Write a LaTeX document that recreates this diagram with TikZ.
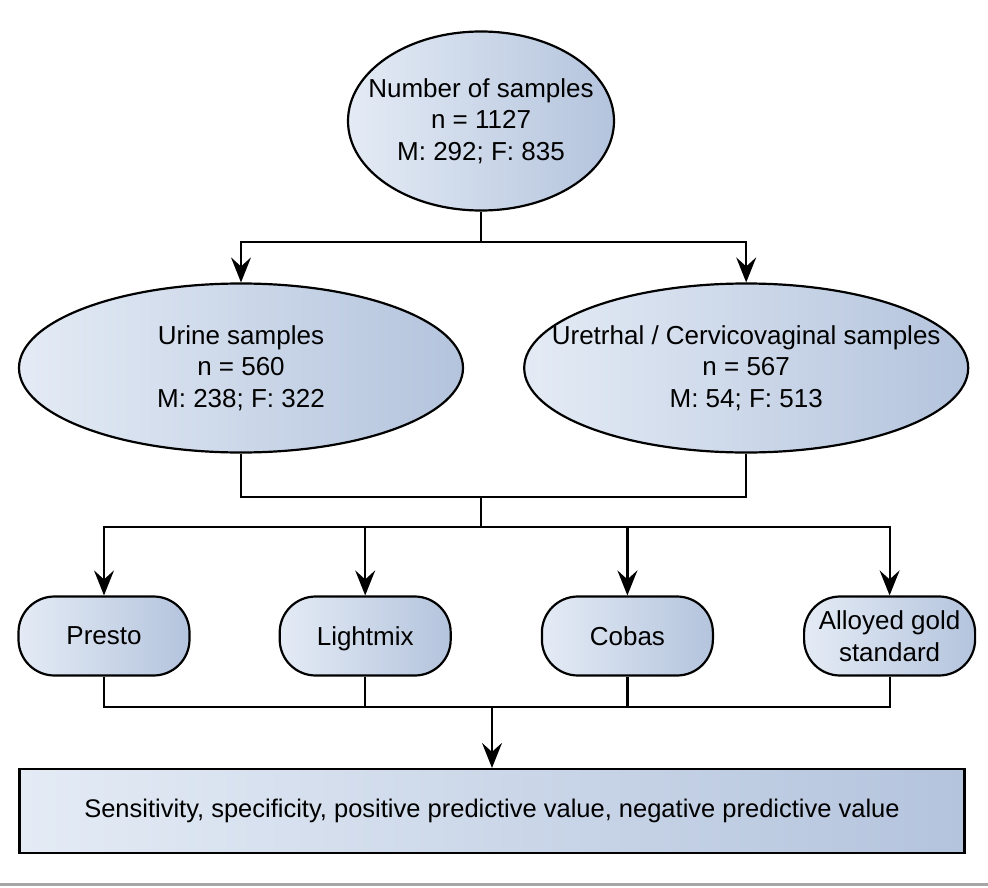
\documentclass[tikz,border=0pt]{standalone}
\usepackage{fontspec}
\setmainfont{Liberation Sans}
\usepackage{tikz}
\usetikzlibrary{arrows.meta,positioning,shapes.geometric}

\definecolor{shadeleft}{RGB}{228,235,245}
\definecolor{shaderight}{RGB}{180,196,221}

\begin{document}
\begin{tikzpicture}[
  x=1pt, y=-1pt,
  oval/.style={ellipse, draw, line width=2.2pt, left color=shadeleft, right color=shaderight,
    inner xsep=-80pt, inner ysep=0pt, align=center, font=\fontsize{26}{31.5}\selectfont},
  pill/.style={draw, line width=2.2pt, rounded corners=36pt, left color=shadeleft, right color=shaderight,
    minimum width=171pt, minimum height=79pt, inner sep=0pt, align=center, font=\fontsize{26}{32}\selectfont},
  resbox/.style={draw, line width=2.2pt, left color=shadeleft, right color=shaderight,
    minimum width=945pt, minimum height=84pt, inner sep=0pt, font=\fontsize{25.5}{31}\selectfont},
  link/.style={line width=2.2pt},
  arrow/.style={-{Stealth[length=25pt, width=20pt, inset=9pt]}, line width=2.2pt},
]
\useasboundingbox (0,0) rectangle (988,888);

\node[oval, minimum width=266pt, minimum height=179pt] (total) at (481,121) {Number of samples\\n = 1127\\M: 292; F: 835};
\node[oval, minimum width=444pt, minimum height=169pt] (urine) at (241,368) {Urine samples\\n = 560\\M: 238; F: 322};
\node[oval, minimum width=444pt, minimum height=169pt, right=59pt of urine] (swab) {Uretrhal / Cervicovaginal samples\\n = 567\\M: 54; F: 513};

\node[pill] (presto) at (104,636) {Presto};
\node[pill, text depth=0pt, right=88pt of presto] (lightmix) {Lightmix};
\node[pill, right=89pt of lightmix] (cobas) {Cobas};
\node[pill, right=89pt of cobas] (alloyed) {Alloyed gold\\standard};

\node[resbox] (result) at (492,811) {Sensitivity, specificity, positive predictive value, negative predictive value};

\coordinate (split) at (481,242);
\coordinate (merge) at (481,497);
\coordinate (fork) at (481,527);
\coordinate (collect) at (492,707);

\draw[link] (total.south) -- (split);
\draw[arrow] (split) -| (urine.north);
\draw[arrow] (split) -| (swab.north);

\draw[link] (urine.south) |- (merge) -| (swab.south);
\draw[link] (merge) -- (fork);
\draw[arrow] (fork) -| (presto.north);
\draw[arrow] (fork) -| (lightmix.north);
\draw[arrow] (fork) -| (cobas.north);
\draw[arrow] (fork) -| (alloyed.north);

\draw[link] (presto.south) |- (collect) -| (alloyed.south);
\draw[link] (lightmix.south) -- (lightmix.south |- collect);
\draw[link] (cobas.south) -- (cobas.south |- collect);
\draw[arrow] (collect) -- (result.north -| collect);

\draw[gray!70, line width=3pt] (0,884) -- (988,884);
\end{tikzpicture}
\end{document}
